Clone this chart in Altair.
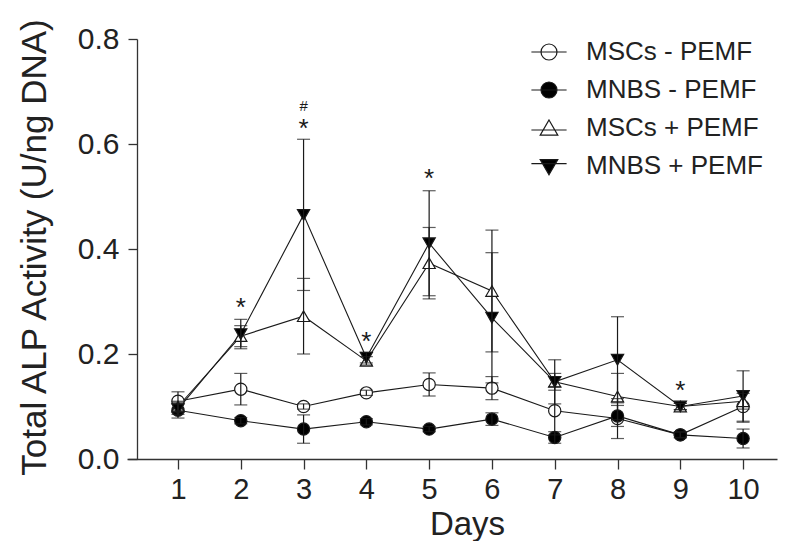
import altair as alt
import pandas as pd

days = [1, 2, 3, 4, 5, 6, 7, 8, 9, 10]
series_names = ["MSCs - PEMF", "MNBS - PEMF", "MSCs + PEMF", "MNBS + PEMF"]

msc_minus = [0.110, 0.133, 0.100, 0.126, 0.142, 0.135, 0.092, 0.077, 0.046, 0.100]
msc_minus_err = [0.018, 0.030, 0.005, 0.005, 0.022, 0.022, 0.046, 0.038, 0.005, 0.030]
mnbs_minus = [0.093, 0.073, 0.057, 0.071, 0.057, 0.076, 0.041, 0.082, 0.046, 0.039]
mnbs_minus_err = [0.015, 0.006, 0.027, 0.006, 0.005, 0.012, 0.011, 0.020, 0.006, 0.018]
msc_plus = [0.100, 0.234, 0.272, 0.187, 0.373, 0.320, 0.147, 0.119, 0.100, 0.110]
msc_plus_err = [0.010, 0.020, 0.072, 0.008, 0.068, 0.116, 0.016, 0.044, 0.006, 0.015]
mnbs_plus = [0.095, 0.238, 0.465, 0.193, 0.411, 0.269, 0.147, 0.189, 0.100, 0.120]
mnbs_plus_err = [0.010, 0.028, 0.144, 0.010, 0.100, 0.124, 0.042, 0.082, 0.006, 0.048]

star_days = [2, 3, 4, 5, 9]
star_values = [0.300, 0.640, 0.234, 0.544, 0.141]
hash_days = [3]
hash_values = [0.672]

y_ticks = [0.0, 0.2, 0.4, 0.6, 0.8]

rows = []
for name, vals, errs in zip(series_names,
                            [msc_minus, mnbs_minus, msc_plus, mnbs_plus],
                            [msc_minus_err, mnbs_minus_err, msc_plus_err, mnbs_plus_err]):
    for d, v, e in zip(days, vals, errs):
        rows.append({"day": d, "value": v, "lo": v - e, "hi": v + e, "series": name})
df = pd.DataFrame(rows)
stars = pd.DataFrame({"day": star_days, "value": star_values})
hashes = pd.DataFrame({"day": hash_days, "value": hash_values})

FONT = "Liberation Sans"
INK = "#1a1a1a"

xscale = alt.Scale(domain=[0.188, 10.54], nice=False, zero=False)
yscale = alt.Scale(domain=[0, 0.8], nice=False, zero=False)

x = alt.X("day:Q", scale=xscale, axis=alt.Axis(
    values=days, format="d", title="Days", tickSize=10, labelPadding=6, labelFontSize=29,
    titleFontSize=33, titleX=340, titleY=75.5, titleBaseline="alphabetic",
    titleAlign="center", labelFlush=False, labelOverlap=False))
y = alt.Y("value:Q", scale=yscale, axis=alt.Axis(
    values=y_ticks, format=".1f", title="Total ALP Activity (U/ng DNA)", offset=-10,
    tickSize=9, labelPadding=9, labelFontSize=30, titleFontSize=35,
    titleX=-92, titleY=208, titleAlign="center", titleBaseline="alphabetic",
    titleAngle=-90))

base = alt.Chart(df)

lines = base.mark_line(color=INK, strokeWidth=1.1).encode(x=x, y=y, detail="series:N")

points = base.mark_point(filled=True, stroke=INK, strokeWidth=1.2, opacity=1, size=150).encode(
    x=x, y=y,
    shape=alt.Shape("series:N", scale=alt.Scale(domain=series_names,
                    range=["circle", "circle", "triangle-up", "triangle-down"]), legend=None),
    fill=alt.Fill("series:N", scale=alt.Scale(domain=series_names,
                  range=["white", "black", "white", "black"]), legend=None),
)

err_rules = base.mark_rule(color=INK, strokeWidth=1.2).encode(
    x="day:Q", y=alt.Y("lo:Q"), y2="hi:Q")
cap_lo = base.mark_tick(color=INK, orient="horizontal", size=13, thickness=1.2).encode(
    x="day:Q", y="lo:Q")
cap_hi = base.mark_tick(color=INK, orient="horizontal", size=13, thickness=1.2).encode(
    x="day:Q", y="hi:Q")

star_text = alt.Chart(stars).mark_text(text="*", font=FONT, fontSize=26, baseline="middle",
                                        dy=6, color=INK).encode(x="day:Q", y="value:Q")
hash_text = alt.Chart(hashes).mark_text(text="#", font=FONT, fontSize=15, baseline="middle",
                                         color=INK).encode(x="day:Q", y="value:Q")

legend_paths = [
    "M-2.2,0L2.2,0M-1,0A1,1,0,1,1,1,0A1,1,0,1,1,-1,0Z",
    "M-2.2,0L2.2,0M-1,0A1,1,0,1,1,1,0A1,1,0,1,1,-1,0Z",
    "M-2.2,0.25L2.2,0.25M0,-1L1.1,0.9L-1.1,0.9Z",
    "M-2.2,-0.3L2.2,-0.3M0,1.1L1.1,-0.8L-1.1,-0.8Z",
]
leg = alt.Legend(title=None, orient="none", legendX=409, legendY=0, padding=0,
                 symbolSize=256, symbolStrokeWidth=1.2, symbolStrokeColor=INK,
                 labelFont=FONT, labelFontSize=26, labelColor="#222", labelOffset=24,
                 rowPadding=12, labelLimit=400)
legend_layer = base.transform_filter("datum.day > 100").mark_point(
    filled=False, strokeWidth=1.2, opacity=1).encode(
    x=x, y=y,
    shape=alt.Shape("series:N", scale=alt.Scale(domain=series_names, range=legend_paths), legend=leg),
    fill=alt.Fill("series:N", scale=alt.Scale(domain=series_names,
                  range=["white", "black", "white", "black"]), legend=leg),
    stroke=alt.Stroke("series:N", scale=alt.Scale(domain=series_names,
                      range=[INK, INK, INK, INK]), legend=leg),
)

chart = alt.layer(lines, points, err_rules, cap_lo, cap_hi, star_text, hash_text, legend_layer).resolve_scale(
    shape="independent", fill="independent", stroke="independent"
).properties(
    width=650, height=420,
    padding={"left": 119, "top": 31, "right": 4, "bottom": 82},
    autosize=alt.AutoSizeParams(type="none"),
).configure_view(stroke=None).configure_axis(
    grid=False, domainColor="#333", tickColor="#333", labelColor="#222", titleColor="#222",
    labelFont=FONT, titleFont=FONT, titleFontWeight="normal", domainWidth=1.3, tickWidth=1.3,
)

chart.save("out.html", embed_options={"renderer": "svg", "actions": False})
